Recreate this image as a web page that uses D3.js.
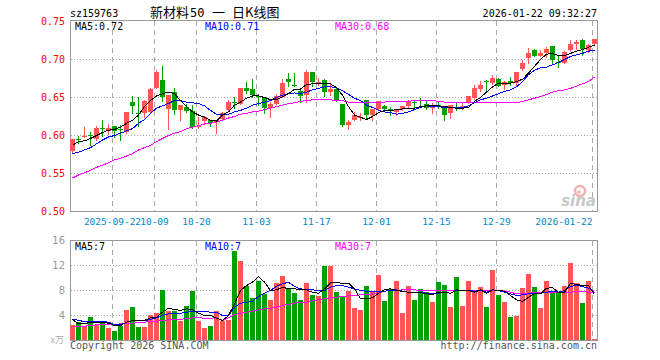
<!DOCTYPE html>
<html>
<head>
<meta charset="utf-8">
<script src="https://cdn.jsdelivr.net/npm/d3@7"></script>
<style>
  body { margin: 0; background: #fff; }
  text { font-family: "DejaVu Sans Mono", monospace; font-size: 10px; }
</style>
</head>
<body>
<div id="chart"></div>
<script>
// trading days shown on the chart (88 sessions)
var dates = [
  "2025-09-11","2025-09-12","2025-09-15","2025-09-16","2025-09-17","2025-09-18","2025-09-19",
  "2025-09-22","2025-09-23","2025-09-24","2025-09-25","2025-09-26","2025-09-29","2025-09-30",
  "2025-10-09","2025-10-10","2025-10-13","2025-10-14","2025-10-15","2025-10-16","2025-10-17",
  "2025-10-20","2025-10-21","2025-10-22","2025-10-23","2025-10-24","2025-10-27","2025-10-28",
  "2025-10-29","2025-10-30","2025-10-31",
  "2025-11-03","2025-11-04","2025-11-05","2025-11-06","2025-11-07","2025-11-10","2025-11-11",
  "2025-11-12","2025-11-13","2025-11-14","2025-11-17","2025-11-18","2025-11-19","2025-11-20",
  "2025-11-21","2025-11-24","2025-11-25","2025-11-26","2025-11-27","2025-11-28",
  "2025-12-01","2025-12-02","2025-12-03","2025-12-04","2025-12-05","2025-12-08","2025-12-09",
  "2025-12-10","2025-12-11","2025-12-12","2025-12-15","2025-12-16","2025-12-17","2025-12-18",
  "2025-12-19","2025-12-22","2025-12-23","2025-12-24","2025-12-25","2025-12-26","2025-12-29",
  "2025-12-30","2025-12-31",
  "2026-01-05","2026-01-06","2026-01-07","2026-01-08","2026-01-09","2026-01-12","2026-01-13",
  "2026-01-14","2026-01-15","2026-01-16","2026-01-19","2026-01-20","2026-01-21","2026-01-22"
];

var open = [0.580,0.595,0.599,0.601,0.595,0.610,0.606,0.612,0.609,0.605,0.644,0.630,0.630,0.631,
  0.663,0.673,0.635,0.657,0.633,0.638,0.632,0.611,0.619,0.621,0.618,0.622,0.634,0.644,0.642,0.662,
  0.661,0.652,0.650,0.636,0.642,0.651,0.674,0.667,0.659,0.653,0.684,0.670,0.673,0.657,0.661,0.642,
  0.614,0.621,0.623,0.647,0.627,0.635,0.639,0.635,0.631,0.635,0.639,0.644,0.647,0.641,0.636,0.640,
  0.639,0.629,0.638,0.636,0.643,0.649,0.661,0.672,0.669,0.674,0.667,0.672,0.669,0.687,0.702,0.712,
  0.705,0.708,0.718,0.697,0.696,0.713,0.721,0.726,0.712,0.721];
var close = [0.595,0.594,0.600,0.600,0.610,0.609,0.610,0.606,0.608,0.631,0.639,0.629,0.645,0.661,
  0.684,0.650,0.653,0.634,0.640,0.632,0.611,0.613,0.625,0.617,0.621,0.630,0.644,0.643,0.662,0.659,
  0.653,0.650,0.636,0.641,0.652,0.669,0.670,0.666,0.652,0.684,0.671,0.671,0.657,0.661,0.647,0.614,
  0.618,0.627,0.624,0.627,0.635,0.645,0.635,0.634,0.633,0.639,0.646,0.643,0.646,0.636,0.640,0.639,
  0.627,0.640,0.637,0.639,0.652,0.662,0.667,0.671,0.675,0.665,0.671,0.669,0.683,0.696,0.709,0.705,
  0.709,0.714,0.699,0.696,0.710,0.721,0.723,0.714,0.719,0.727];
var high = [0.596,0.599,0.611,0.605,0.612,0.620,0.615,0.612,0.614,0.631,0.652,0.650,0.647,0.662,
  0.686,0.691,0.653,0.663,0.640,0.642,0.640,0.625,0.626,0.621,0.621,0.631,0.647,0.650,0.662,0.670,
  0.674,0.654,0.651,0.644,0.654,0.674,0.682,0.682,0.661,0.686,0.684,0.675,0.674,0.668,0.664,0.642,
  0.621,0.631,0.630,0.647,0.635,0.645,0.640,0.638,0.635,0.639,0.647,0.647,0.649,0.647,0.643,0.646,
  0.639,0.640,0.643,0.643,0.652,0.667,0.672,0.673,0.679,0.676,0.672,0.677,0.683,0.700,0.715,0.714,
  0.713,0.716,0.718,0.704,0.711,0.726,0.726,0.727,0.721,0.727];
var low = [0.578,0.590,0.598,0.587,0.594,0.600,0.602,0.598,0.594,0.603,0.630,0.612,0.625,0.630,
  0.662,0.646,0.609,0.628,0.620,0.631,0.610,0.610,0.617,0.613,0.603,0.620,0.633,0.636,0.641,0.656,
  0.650,0.640,0.630,0.625,0.641,0.650,0.665,0.665,0.644,0.644,0.665,0.666,0.652,0.653,0.646,0.612,
  0.609,0.620,0.620,0.622,0.620,0.633,0.633,0.627,0.627,0.633,0.638,0.638,0.639,0.635,0.630,0.636,
  0.620,0.623,0.633,0.635,0.643,0.648,0.659,0.660,0.668,0.665,0.661,0.667,0.667,0.686,0.696,0.704,
  0.704,0.703,0.694,0.690,0.695,0.711,0.714,0.706,0.710,0.720];

// volume, in units of 万 (ten thousand)
var volume = [2.56,2.93,2.40,3.73,2.50,3.04,1.97,1.49,2.40,4.96,5.44,2.13,2.24,4.16,4.37,8.16,
  4.80,4.80,3.09,5.60,7.89,3.20,1.97,2.40,4.80,3.09,3.36,14.4,12.8,8.80,6.77,9.60,7.47,6.56,9.17,
  10.4,8.27,7.57,6.56,9.17,7.36,7.09,11.9,12.0,7.73,7.09,7.89,5.17,4.96,8.69,7.73,10.56,6.40,8.27,
  9.60,4.37,8.80,6.56,8.27,7.73,6.24,9.44,8.96,5.44,10.24,5.60,9.60,7.84,8.64,5.44,11.36,7.36,6.24,
  3.84,4.00,8.48,10.72,8.64,5.28,9.60,8.00,7.68,8.80,12.48,9.28,5.97,9.60,0.20];

// moving averages as drawn on the chart
var ma5 = [0.587,0.592,0.593,0.596,0.600,0.604,0.607,0.608,0.611,0.616,0.620,0.627,0.638,0.646,
  0.652,0.655,0.657,0.655,0.646,0.638,0.631,0.627,0.624,0.620,0.619,0.627,0.631,0.640,0.644,0.649,
  0.652,0.652,0.650,0.647,0.647,0.651,0.655,0.661,0.661,0.667,0.668,0.668,0.668,0.668,0.663,0.653,
  0.638,0.627,0.624,0.621,0.625,0.630,0.633,0.633,0.634,0.635,0.635,0.636,0.638,0.639,0.639,0.639,
  0.638,0.637,0.636,0.636,0.637,0.645,0.650,0.657,0.664,0.669,0.669,0.669,0.671,0.674,0.682,0.691,
  0.700,0.707,0.708,0.705,0.705,0.708,0.711,0.713,0.716,0.719];
var ma10 = [0.576,0.578,0.581,0.584,0.589,0.594,0.598,0.600,0.603,0.606,0.609,0.616,0.621,0.629,
  0.636,0.639,0.642,0.646,0.646,0.644,0.643,0.642,0.639,0.633,0.628,0.627,0.628,0.631,0.633,0.636,
  0.640,0.642,0.644,0.646,0.650,0.653,0.655,0.656,0.655,0.657,0.660,0.662,0.664,0.664,0.663,0.659,
  0.654,0.649,0.646,0.640,0.637,0.633,0.631,0.630,0.628,0.629,0.631,0.634,0.637,0.639,0.638,0.638,
  0.637,0.637,0.637,0.637,0.639,0.643,0.647,0.649,0.652,0.655,0.658,0.660,0.664,0.671,0.680,0.686,
  0.689,0.690,0.693,0.696,0.700,0.704,0.706,0.708,0.711,0.712];
var ma30 = [0.544,0.548,0.551,0.554,0.558,0.561,0.564,0.568,0.570,0.573,0.576,0.581,0.584,0.587,
  0.592,0.596,0.600,0.603,0.605,0.609,0.611,0.613,0.615,0.616,0.618,0.620,0.623,0.625,0.628,0.629,
  0.631,0.632,0.634,0.636,0.638,0.640,0.642,0.643,0.645,0.646,0.647,0.647,0.647,0.647,0.646,0.646,
  0.644,0.644,0.643,0.643,0.644,0.644,0.644,0.645,0.645,0.645,0.645,0.646,0.646,0.646,0.646,0.645,
  0.644,0.643,0.643,0.643,0.643,0.643,0.643,0.643,0.643,0.643,0.643,0.643,0.643,0.645,0.647,0.649,
  0.651,0.654,0.657,0.659,0.660,0.662,0.665,0.668,0.671,0.677];

var vma5 = [3.36,2.67,2.67,2.93,2.93,2.93,2.77,2.40,2.40,2.93,3.20,3.20,3.20,3.63,3.73,4.53,5.17,
  4.96,4.80,5.07,4.96,4.37,4.00,4.00,3.57,3.20,4.00,5.87,8.00,8.80,9.33,10.24,9.33,8.00,8.10,8.53,
  8.27,8.27,8.16,8.10,7.73,7.57,8.27,9.23,9.23,9.17,9.17,8.27,6.67,6.67,6.83,7.57,8.10,8.27,8.00,
  7.84,7.73,7.63,7.63,7.47,7.36,7.73,7.73,7.57,8.10,8.00,8.00,7.73,8.10,7.57,8.10,8.00,7.89,7.20,
  6.51,6.24,6.93,7.47,7.47,8.37,8.43,7.73,7.73,9.17,8.96,8.80,8.80,7.36];
var vma10 = [3.47,3.20,3.04,3.04,3.09,3.04,2.93,2.56,2.51,2.93,3.20,3.20,3.20,3.36,3.63,4.00,4.27,
  4.37,4.37,4.53,4.69,4.64,4.64,4.53,4.53,4.00,4.00,5.33,5.97,6.13,6.29,7.04,7.57,8.00,8.69,9.07,
  9.33,8.64,8.27,8.16,8.10,8.00,8.00,8.53,8.80,8.80,8.53,8.27,8.00,7.89,7.89,7.89,7.89,8.00,8.10,
  7.89,7.73,7.63,7.73,7.57,7.57,7.57,7.73,7.57,8.00,8.00,8.00,7.89,8.00,7.73,8.10,8.00,7.73,7.47,
  7.20,7.31,7.47,7.47,7.57,7.73,7.84,7.73,8.00,8.64,8.80,8.64,8.37,7.73];
var vma30 = [2.24,2.24,2.29,2.40,2.51,2.56,2.56,2.56,2.67,2.67,2.77,2.88,2.93,3.04,3.09,3.20,3.31,
  3.36,3.41,3.47,3.63,3.63,3.57,3.57,3.63,3.20,3.63,4.16,4.37,4.53,4.69,4.96,5.07,5.17,5.33,5.60,
  5.76,5.97,6.08,6.13,6.40,6.51,6.67,6.83,6.93,7.04,7.15,7.20,7.31,7.36,7.47,7.63,7.89,8.00,8.00,
  8.10,8.10,8.10,8.00,8.00,8.00,7.95,7.95,7.95,7.95,7.95,7.95,7.95,7.95,7.95,7.95,7.95,7.95,7.73,
  7.47,7.47,7.57,7.63,7.63,7.73,7.73,7.73,7.73,7.73,7.84,7.84,7.73,7.73];

var priceTicks = [0.50, 0.55, 0.60, 0.65, 0.70, 0.75];
var volumeTicks = [4, 8, 12, 16];
var tickDates = ["2025-09-22","2025-10-09","2025-10-20","2025-11-03","2025-11-17",
  "2025-12-01","2025-12-15","2025-12-29","2026-01-22"];
var tickLabels = ["2025-09-22","10-09","10-20","11-03","11-17","12-01","12-15","12-29","2026-01-22"];

var upColor = "#ff5555";
var downColor = "#00a000";
var gridColor = "#aaaaaa";

var svg = d3.select('#chart')
    .append('svg')
    .attr('width', 660)
    .attr('height', 360)
    .style('display', 'block');

// one 6px slot per session, bars 5px wide
var x = d3.scaleBand().domain(dates).range([70, 598]);
var yPrice = d3.scaleLinear().domain([0.5, 0.75]).range([211.5, 21.5]);
var yVol = d3.scaleLinear().domain([0, 16]).range([340.5, 240.5]);

function cx(i) { return x(dates[i]) + 2.5; }

// ---- grid ----
var grid = svg.append('g')
    .attr('stroke', gridColor)
    .attr('shape-rendering', 'crispEdges');

grid.selectAll('.hgrid')
    .data(priceTicks.slice(1, 5))
    .enter().append('line')
    .attr('x1', 71).attr('x2', 597)
    .attr('y1', function(d) { return yPrice(d); })
    .attr('y2', function(d) { return yPrice(d); })
    .attr('stroke-dasharray', '1,2');

grid.selectAll('.vgrid')
    .data(volumeTicks.slice(0, 3))
    .enter().append('line')
    .attr('x1', 71).attr('x2', 597)
    .attr('y1', function(d) { return yVol(d); })
    .attr('y2', function(d) { return yVol(d); })
    .attr('stroke-dasharray', '1,2');

tickDates.forEach(function(d) {
    var gx = x(d) + 0.5;
    grid.append('line').attr('x1', gx).attr('x2', gx).attr('y1', 21).attr('y2', 211)
        .attr('stroke-dasharray', '5,4');
    grid.append('line').attr('x1', gx).attr('x2', gx).attr('y1', 241).attr('y2', 340)
        .attr('stroke-dasharray', '5,4');
});

// frames
svg.append('rect').attr('x', 70.5).attr('y', 20.5).attr('width', 527).attr('height', 191)
    .attr('fill', 'none').attr('stroke', '#999').attr('shape-rendering', 'crispEdges');
svg.append('rect').attr('x', 70.5).attr('y', 240.5).attr('width', 527).attr('height', 100)
    .attr('fill', 'none').attr('stroke', '#999').attr('shape-rendering', 'crispEdges');

// sina watermark
var logo = svg.append('g');
logo.append('circle').attr('cx', 580).attr('cy', 191).attr('r', 5)
    .attr('fill', 'none').attr('stroke', '#f2b0b0').attr('stroke-width', 2.5);
logo.append('circle').attr('cx', 579).attr('cy', 192).attr('r', 1.8).attr('fill', '#f2b0b0');
logo.append('text').attr('x', 596).attr('y', 206).attr('text-anchor', 'end')
    .style('font-family', 'DejaVu Sans').style('font-size', '15px')
    .style('font-style', 'italic').style('font-weight', 'bold')
    .attr('fill', '#c8c8c8').text('sina');

// ---- axes ----
var leftAxis = svg.append('g')
    .attr('transform', 'translate(70,0)')
    .call(d3.axisLeft(yPrice).tickValues(priceTicks).tickSize(0).tickPadding(5)
        .tickFormat(d3.format('.2f')));
leftAxis.select('.domain').remove();
leftAxis.selectAll('text')
    .style('font-family', '"DejaVu Sans Mono", monospace').style('font-size', '10px')
    .attr('fill', '#ff0000');

var volAxis = svg.append('g')
    .attr('transform', 'translate(70,0)')
    .call(d3.axisLeft(yVol).tickValues(volumeTicks).tickSize(0).tickPadding(5));
volAxis.select('.domain').remove();
volAxis.selectAll('text')
    .style('font-family', '"DejaVu Sans", sans-serif').style('font-size', '10px')
    .attr('fill', '#999');

svg.append('g').selectAll('text')
    .data(tickDates)
    .enter().append('text')
    .attr('x', function(d) { return x(d) + 0.5; })
    .attr('y', 225)
    .attr('text-anchor', function(d, i) { return i == tickDates.length - 1 ? 'end' : 'middle'; })
    .style('font-size', '9.5px')
    .attr('fill', '#0088cc')
    .text(function(d, i) { return tickLabels[i]; });

// ---- candles ----
var candles = svg.append('g').attr('shape-rendering', 'crispEdges');
dates.forEach(function(d, i) {
    var col = close[i] >= open[i] ? upColor : downColor;
    candles.append('line')
        .attr('x1', cx(i)).attr('x2', cx(i))
        .attr('y1', Math.round(yPrice(high[i])))
        .attr('y2', Math.round(yPrice(low[i])) + 1)
        .attr('stroke', col);
    var top = Math.round(yPrice(Math.max(open[i], close[i])));
    var bot = Math.round(yPrice(Math.min(open[i], close[i])));
    candles.append('rect')
        .attr('x', x(d)).attr('width', 5)
        .attr('y', top).attr('height', Math.max(1, bot - top))
        .attr('fill', col);
});

// ---- volume bars ----
svg.append('g').attr('shape-rendering', 'crispEdges')
    .selectAll('rect')
    .data(volume)
    .enter().append('rect')
    .attr('x', function(d, i) { return x(dates[i]); })
    .attr('width', 5)
    .attr('y', function(d) { return Math.round(yVol(d)); })
    .attr('height', function(d) { return 340 - Math.round(yVol(d)); })
    .attr('fill', function(d, i) { return close[i] >= open[i] ? upColor : downColor; });

// ---- moving average lines ----
function maLine(scale) {
    return d3.line().x(function(d, i) { return cx(i); }).y(function(d) { return scale(d); });
}
[[ma30, '#ff00ff'], [ma10, '#0000ff'], [ma5, '#000000']].forEach(function(s) {
    svg.append('path').datum(s[0]).attr('d', maLine(yPrice))
        .attr('fill', 'none').attr('stroke', s[1]).attr('stroke-width', 1)
        .attr('shape-rendering', 'crispEdges');
});
[[vma30, '#ff00ff'], [vma10, '#0000ff'], [vma5, '#000000']].forEach(function(s) {
    svg.append('path').datum(s[0]).attr('d', maLine(yVol))
        .attr('fill', 'none').attr('stroke', s[1]).attr('stroke-width', 1)
        .attr('shape-rendering', 'crispEdges');
});

// ---- header and labels ----
svg.append('text').attr('x', 70).attr('y', 16.5).attr('fill', '#000').text('sz159763');

// title pieces are spaced out like the original
var title = svg.append('text').attr('y', 17).attr('fill', '#000')
    .style('font-family', '"Noto Sans CJK SC", sans-serif').style('font-size', '13px');
title.append('tspan').attr('x', 150).text('新材料');
title.append('tspan').attr('x', 190).style('font-family', '"DejaVu Sans Mono", monospace')
    .style('font-size', '12px').text('50');
title.append('tspan').attr('x', 212).text('一');
title.append('tspan').attr('x', 232).text('日K线图');

svg.append('text').attr('x', 597).attr('y', 16.5).attr('text-anchor', 'end')
    .attr('fill', '#000').text('2026-01-22 09:32:27');

var maLabels = [['MA5:0.72', '#000000', 75], ['MA10:0.71', '#0000ff', 205], ['MA30:0.68', '#ff00ff', 335]];
maLabels.forEach(function(m) {
    svg.append('text').attr('x', m[2]).attr('y', 29.5).attr('fill', m[1]).text(m[0]);
});
var vmaLabels = [['MA5:7', '#000000', 75], ['MA10:7', '#0000ff', 205], ['MA30:7', '#ff00ff', 335]];
vmaLabels.forEach(function(m) {
    svg.append('text').attr('x', m[2]).attr('y', 249.5).attr('fill', m[1]).text(m[0]);
});

svg.append('text').attr('x', 64).attr('y', 343).attr('text-anchor', 'end')
    .style('font-family', '"Noto Sans CJK SC", sans-serif').style('font-size', '9px')
    .attr('fill', '#aaa').text('x万');
svg.append('text').attr('x', 70).attr('y', 349).attr('fill', '#555').text('Copyright 2026 SINA.COM');
svg.append('text').attr('x', 597).attr('y', 349).attr('text-anchor', 'end')
    .attr('fill', '#555').text('http://finance.sina.com.cn');
</script>
</body>
</html>
